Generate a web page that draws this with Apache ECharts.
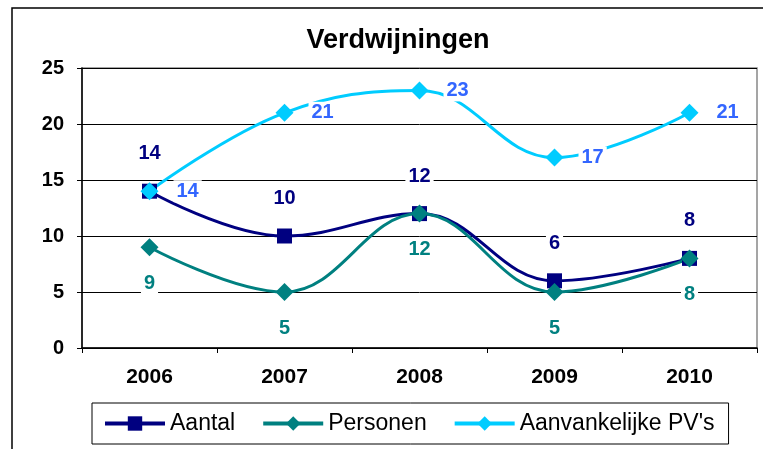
<!DOCTYPE html>
<html>
<head>
    <meta charset="utf-8">
    <title>Verdwijningen</title>
    <script src="https://cdn.jsdelivr.net/npm/echarts@6/dist/echarts.min.js"></script>
    <style>
        body { margin: 0; background: #fff; }
    </style>
</head>
<body>
    <div id="main" style="width: 763px;height:449px;"></div>
    <script>
        var myChart = echarts.init(document.getElementById("main"));

        var years = ['2006', '2007', '2008', '2009', '2010'];
        var aantal = [14, 10, 12, 6, 8];
        var personen = [9, 5, 12, 5, 8];
        var pvs = [14, 21, 23, 17, 21];

        var font = 'Liberation Sans, Arial, sans-serif';

        function lbl(pos, color, dist) {
            return {
                show: true,
                position: pos,
                distance: dist,
                color: color,
                fontFamily: font,
                fontWeight: 'bold',
                fontSize: 20,
                backgroundColor: '#fff',
                padding: [1, 3]
            };
        }

        option = {
            animation: false,
            title: {
                text: 'Verdwijningen',
                left: 393,
                textAlign: 'center',
                top: 22,
                textStyle: { fontFamily: font, fontWeight: 'bold', fontSize: 27, color: '#000' }
            },
            graphic: [{
                type: 'rect',
                shape: { x: 12, y: 8, width: 800, height: 500 },
                style: { fill: 'none', stroke: '#000', lineWidth: 1.5 },
                silent: true
            }],
            legend: {
                left: 92,
                top: 403,
                padding: [9, 14, 9, 11],
                borderColor: '#000',
                borderWidth: 1,
                itemWidth: 60,
                itemHeight: 18,
                itemGap: 26,
                lineStyle: { width: 4 },
                textStyle: { fontFamily: font, fontSize: 23, color: '#000' },
                data: ['Aantal', 'Personen', "Aanvankelijke PV's"]
            },
            grid: {
                left: 82, top: 68, right: 6, bottom: 101,
                show: true, borderColor: '#888', borderWidth: 1.5
            },
            xAxis: {
                type: 'category',
                data: years,
                boundaryGap: true,
                axisLine: { lineStyle: { color: '#000', width: 1.5 } },
                axisTick: { show: true, length: 5, lineStyle: { color: '#000' } },
                axisLabel: { margin: 19, color: '#000', fontFamily: font, fontWeight: 'bold', fontSize: 21 }
            },
            yAxis: {
                type: 'value',
                min: 0, max: 25, interval: 5,
                axisLine: { show: true, lineStyle: { color: '#000', width: 1.5 } },
                axisTick: { show: true, length: 5, lineStyle: { color: '#000' } },
                splitLine: { lineStyle: { color: '#000', width: 1 } },
                axisLabel: { margin: 18, color: '#000', fontFamily: font, fontWeight: 'bold', fontSize: 20 }
            },
            series: [{
                name: 'Aantal',
                type: 'line',
                data: aantal,
                smooth: 0.4,
                symbol: 'rect',
                symbolSize: 15,
                itemStyle: { color: '#000080' },
                lineStyle: { color: '#000080', width: 3 },
                label: lbl('top', '#000080', 19)
            }, {
                name: 'Personen',
                type: 'line',
                data: personen,
                smooth: 0.4,
                symbol: 'diamond',
                symbolSize: 18,
                itemStyle: { color: '#008080' },
                lineStyle: { color: '#008080', width: 3 },
                label: lbl('bottom', '#008080', 16)
            }, {
                name: "Aanvankelijke PV's",
                type: 'line',
                data: pvs,
                smooth: 0.4,
                symbol: 'diamond',
                symbolSize: 18,
                itemStyle: { color: '#00CCFF' },
                lineStyle: { color: '#00CCFF', width: 3 },
                label: lbl('right', '#3366FF', 15)
            }]
        };

        myChart.setOption(option);
    </script>
</body>
</html>
